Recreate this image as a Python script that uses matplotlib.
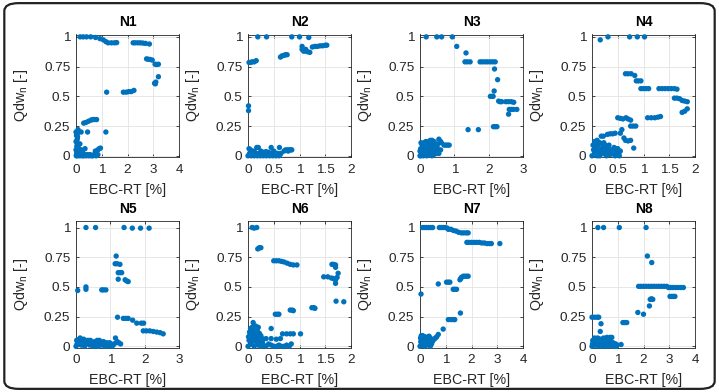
import matplotlib.pyplot as plt
from matplotlib.patches import FancyBboxPatch

plt.rcParams['font.family'] = ['Liberation Sans', 'DejaVu Sans']
plt.rcParams['mathtext.fontset'] = 'custom'
plt.rcParams['mathtext.rm'] = 'Liberation Sans'
plt.rcParams['mathtext.it'] = 'Liberation Sans:italic'

# data: (EBC-RT [%], Qdw_n [-])
n1_pts = [(0.16, 1), (0.28, 1), (0.41, 1), (0.57, 1), (0.76, 0.995), (0.93, 0.985), (1.06, 0.975),
          (1.16, 0.96), (1.25, 0.95), (1.38, 0.95), (1.5, 0.95), (1.58, 0.952),
          (2.22, 0.95), (2.3, 0.95), (2.4, 0.95), (2.5, 0.95), (2.6, 0.948), (2.7, 0.945), (2.85, 0.94),
          (2.74, 0.815), (2.8, 0.812), (2.88, 0.81), (2.96, 0.805), (3.07, 0.77), (3.13, 0.768), (3.2, 0.77),
          (3.2, 0.665), (3.05, 0.61), (3.1, 0.62), (3.08, 0.605),
          (1.19, 0.535), (1.84, 0.535), (1.95, 0.535), (2.05, 0.54), (2.15, 0.54), (2.25, 0.55),
          (0.3, 0.275), (0.38, 0.28), (0.48, 0.29), (0.58, 0.3), (0.65, 0.305), (0.72, 0.305), (0.8, 0.305),
          (0.08, 0.22), (0.1, 0.2), (0.2, 0.2), (0.45, 0.2), (1.16, 0.2),
          (0.02, 0.17), (0.05, 0.14), (0.0, 0.12), (0.1, 0.1), (0.03, 0.08), (0.12, 0.06), (0.2, 0.05),
          (0.25, 0.03), (0.35, 0.06), (0.0, 0.05), (0.05, 0.03), (0.15, 0.1), (0.01, 0.0), (0.08, 0.04),
          (0.02, 0.01), (0.06, 0.0), (0.1, 0.01), (0.15, 0.0), (0.2, 0.01), (0.3, 0.0), (0.4, 0.0),
          (0.5, 0.0), (0.55, 0.01), (0.6, 0.0), (0.65, 0.0), (0.7, 0.01), (0.78, 0.0), (0.85, 0.01),
          (0.75, 0.04), (0.85, 0.05), (0.9, 0.06), (0.95, 0.065),
          (0.05, 0.1), (0.1, 0.05), (0.15, 0.04), (0.03, 0.02), (0.12, 0.02), (0.18, 0.03), (0.22, 0.01),
          (0.25, 0.0), (0.35, 0.01), (0.45, 0.01), (0.0, 0.2), (0.04, 0.18), (0.06, 0.16)]

n2_pts = [(0.19, 1), (0.36, 1), (0.85, 1), (1.0, 1), (1.18, 0.995),
          (0.02, 0.785), (0.05, 0.785), (0.08, 0.79), (0.12, 0.79), (0.16, 0.8),
          (0.63, 0.83), (0.66, 0.84), (0.7, 0.845), (0.73, 0.85), (0.76, 0.85),
          (1.05, 0.895), (1.08, 0.88), (1.12, 0.88), (1.16, 0.875), (1.2, 0.87), (1.12, 0.895), (1.05, 0.92),
          (1.25, 0.915), (1.3, 0.92), (1.35, 0.92), (1.4, 0.925), (1.45, 0.925), (1.5, 0.93), (1.53, 0.93),
          (0.01, 0.42), (0.01, 0.38),
          (0.17, 0.07), (0.2, 0.07), (0.45, 0.07), (0.61, 0.07), (0.7, 0.04), (0.73, 0.05), (0.77, 0.05),
          (0.8, 0.05), (0.83, 0.05), (0.85, 0.05), (0.78, 0.04),
          (0.0, 0.0), (0.03, 0.02), (0.06, 0.0), (0.1, 0.03), (0.14, 0.01), (0.18, 0.0), (0.22, 0.02),
          (0.26, 0.01), (0.3, 0.0), (0.34, 0.02), (0.38, 0.01), (0.42, 0.0), (0.46, 0.02), (0.5, 0.01),
          (0.54, 0.0), (0.58, 0.02), (0.62, 0.01), (0.05, 0.05), (0.25, 0.04), (0.35, 0.035),
          (0.5, 0.04), (0.55, 0.02), (0.12, 0.04), (0.3, 0.03), (0.02, 0.06), (0.4, 0.03),
          (0.08, 0.01), (0.16, 0.02), (0.24, 0.0), (0.28, 0.02), (0.32, 0.01), (0.36, 0.0), (0.4, 0.02),
          (0.44, 0.01), (0.48, 0.0), (0.52, 0.02), (0.56, 0.01), (0.6, 0.0), (0.64, 0.02), (0.2, 0.01),
          (0.12, 0.0)]

n3_pts = [(0.18, 1), (0.49, 1), (0.63, 1), (0.94, 1), (1.07, 0.92), (1.34, 0.865),
          (1.31, 0.79), (1.38, 0.79), (1.46, 0.79),
          (1.75, 0.79), (1.82, 0.79), (1.9, 0.79), (1.97, 0.79), (2.05, 0.79), (2.12, 0.79), (2.19, 0.79),
          (2.17, 0.73), (2.26, 0.64), (2.16, 0.545), (2.05, 0.5), (2.1, 0.5), (2.13, 0.5),
          (2.29, 0.46), (2.33, 0.455), (2.38, 0.455), (2.5, 0.455), (2.58, 0.455), (2.66, 0.455), (2.73, 0.45),
          (2.6, 0.39), (2.66, 0.39), (2.72, 0.39), (2.82, 0.39), (2.58, 0.35),
          (2.14, 0.245), (2.19, 0.245), (2.24, 0.245), (1.4, 0.22), (1.7, 0.22),
          (0.3, 0.13), (0.35, 0.13), (0.55, 0.14), (0.6, 0.12), (0.62, 0.11), (0.7, 0.09), (0.75, 0.09),
          (0.8, 0.09), (0.85, 0.09), (0.55, 0.02), (0.45, 0.04), (0.5, 0.07),
          (0.0, 0.0), (0.05, 0.02), (0.1, 0.05), (0.15, 0.08), (0.2, 0.1), (0.25, 0.12), (0.02, 0.06),
          (0.08, 0.09), (0.12, 0.11), (0.18, 0.03), (0.22, 0.06), (0.28, 0.02), (0.32, 0.05), (0.38, 0.08),
          (0.42, 0.1), (0.4, 0.01), (0.05, 0.1), (0.1, 0.0), (0.15, 0.02), (0.3, 0.09), (0.35, 0.0),
          (0.0, 0.04), (0.2, 0.0), (0.25, 0.04), (0.6, 0.05),
          (0.03, 0.03), (0.07, 0.07), (0.13, 0.06), (0.17, 0.12), (0.23, 0.09), (0.27, 0.07), (0.33, 0.11),
          (0.37, 0.04), (0.43, 0.06), (0.47, 0.02), (0.03, 0.11), (0.08, 0.04), (0.12, 0.08), (0.17, 0.05),
          (0.22, 0.02), (0.27, 0.1), (0.32, 0.01), (0.36, 0.1), (0.41, 0.12), (0.02, 0.0), (0.07, 0.01),
          (0.12, 0.03), (0.45, 0.08), (0.52, 0.1)]

n4_pts = [(0.16, 0.975), (0.31, 1), (0.73, 1), (0.88, 1), (1.02, 1),
          (0.65, 0.69), (0.7, 0.69), (0.76, 0.69), (0.83, 0.675),
          (0.86, 0.63), (0.9, 0.63), (0.95, 0.63),
          (0.95, 0.565), (1.0, 0.565), (1.05, 0.565), (1.1, 0.565),
          (1.3, 0.565), (1.36, 0.565), (1.42, 0.565), (1.48, 0.565), (1.54, 0.565), (1.6, 0.565), (1.65, 0.56),
          (1.6, 0.485), (1.65, 0.485), (1.7, 0.48), (1.75, 0.465), (1.8, 0.46), (1.85, 0.455),
          (1.85, 0.395), (1.75, 0.365), (1.8, 0.375),
          (1.08, 0.32), (1.15, 0.32), (1.22, 0.32), (1.28, 0.325), (1.33, 0.33),
          (0.5, 0.32), (0.55, 0.315), (0.6, 0.31), (0.66, 0.32), (0.7, 0.31), (0.75, 0.3),
          (0.75, 0.25), (0.8, 0.25), (0.85, 0.25), (0.58, 0.22), (0.55, 0.19),
          (0.3, 0.18), (0.35, 0.185), (0.4, 0.185), (0.45, 0.19), (0.18, 0.165), (0.22, 0.165),
          (0.62, 0.15), (0.65, 0.13), (0.7, 0.125), (0.75, 0.13), (0.81, 0.065),
          (0.0, 0.0), (0.03, 0.05), (0.05, 0.12), (0.08, 0.02), (0.1, 0.08), (0.12, 0.04), (0.15, 0.0),
          (0.18, 0.06), (0.2, 0.1), (0.22, 0.02), (0.25, 0.07), (0.28, 0.0), (0.3, 0.04), (0.33, 0.09),
          (0.35, 0.01), (0.38, 0.05), (0.4, 0.02), (0.43, 0.07), (0.45, 0.0), (0.48, 0.03), (0.5, 0.06),
          (0.52, 0.02), (0.55, 0.04), (0.02, 0.09), (0.1, 0.13), (0.15, 0.11), (0.06, 0.07),
          (0.05, 0.03), (0.1, 0.0), (0.12, 0.1), (0.17, 0.03), (0.2, 0.06), (0.23, 0.11), (0.27, 0.03),
          (0.32, 0.06), (0.36, 0.03), (0.42, 0.04), (0.47, 0.06), (0.53, 0.0), (0.08, 0.1), (0.25, 0.09)]

n5_pts = [(0.29, 1), (0.57, 1), (1.4, 1), (1.64, 0.995), (1.88, 0.995), (2.13, 0.995),
          (1.17, 0.76), (1.14, 0.695), (1.2, 0.695), (1.28, 0.69), (1.23, 0.62), (1.28, 0.62), (1.33, 0.62),
          (1.23, 0.565), (1.43, 0.56), (1.48, 0.55), (1.52, 0.545),
          (0.05, 0.47), (0.29, 0.48), (0.29, 0.5), (0.75, 0.475), (0.8, 0.475), (0.87, 0.475),
          (1.21, 0.245), (1.38, 0.235), (1.45, 0.235), (1.52, 0.235), (1.65, 0.22), (1.77, 0.195),
          (1.9, 0.195), (1.97, 0.195),
          (1.96, 0.13), (2.05, 0.13), (2.15, 0.13), (2.25, 0.125), (2.35, 0.12), (2.45, 0.115), (2.54, 0.105),
          (0.0, 0.0), (0.05, 0.03), (0.1, 0.06), (0.15, 0.01), (0.2, 0.04), (0.25, 0.0), (0.3, 0.02),
          (0.35, 0.05), (0.4, 0.01), (0.45, 0.03), (0.5, 0.0), (0.55, 0.04), (0.6, 0.02), (0.65, 0.0),
          (0.7, 0.03), (0.75, 0.01), (0.8, 0.04), (0.85, 0.0), (0.9, 0.03), (0.95, 0.02), (1.0, 0.01),
          (1.05, 0.0), (1.1, 0.02), (1.15, 0.07), (1.2, 0.04), (1.25, 0.03), (1.3, 0.02), (0.12, 0.07),
          (0.02, 0.05), (0.18, 0.02), (0.38, 0.03), (0.62, 0.05), (0.92, 0.0),
          (0.07, 0.04), (0.22, 0.06), (0.28, 0.05), (0.42, 0.05), (0.48, 0.02), (0.58, 0.0), (0.68, 0.05),
          (0.78, 0.03), (0.88, 0.02), (0.98, 0.03), (1.08, 0.01), (1.18, 0.03), (0.03, 0.02), (0.13, 0.03)]

n6_pts = [(0.08, 1), (0.12, 0.995), (0.17, 1.0), (0.19, 0.82), (0.22, 0.83), (0.25, 0.83),
          (0.5, 0.72), (0.55, 0.72), (0.6, 0.72), (0.65, 0.715), (0.7, 0.71), (0.76, 0.7), (0.82, 0.69),
          (0.88, 0.685), (0.95, 0.685),
          (1.63, 0.69), (1.66, 0.69), (1.7, 0.685), (1.7, 0.665),
          (1.47, 0.585), (1.55, 0.585), (1.62, 0.575), (1.66, 0.57), (1.7, 0.56), (1.73, 0.58),
          (1.75, 0.615), (1.7, 0.53),
          (1.71, 0.38), (1.86, 0.375), (1.24, 0.325), (1.28, 0.325), (1.3, 0.32),
          (0.82, 0.305), (0.86, 0.305), (0.88, 0.3), (0.53, 0.27), (0.57, 0.27), (0.6, 0.27),
          (0.45, 0.15), (0.67, 0.105), (0.75, 0.105), (0.82, 0.105), (0.88, 0.105), (1.02, 0.105),
          (0.27, 0.065), (0.35, 0.065), (0.45, 0.065), (0.55, 0.06), (0.63, 0.065), (0.84, 0.02),
          (0.1, 0.2), (0.05, 0.15), (0.15, 0.17), (0.2, 0.16), (0.18, 0.14),
          (0.0, 0.0), (0.02, 0.05), (0.04, 0.1), (0.06, 0.02), (0.08, 0.13), (0.1, 0.07), (0.12, 0.0),
          (0.14, 0.1), (0.16, 0.04), (0.18, 0.08), (0.2, 0.01), (0.22, 0.11), (0.24, 0.05), (0.26, 0.0),
          (0.28, 0.03), (0.3, 0.01), (0.35, 0.0), (0.4, 0.02), (0.5, 0.0), (0.6, 0.01), (0.7, 0.0),
          (0.01, 0.08), (0.03, 0.12), (0.05, 0.06), (0.07, 0.03), (0.09, 0.1), (0.11, 0.05), (0.13, 0.14),
          (0.15, 0.07), (0.17, 0.12), (0.19, 0.05), (0.21, 0.08), (0.23, 0.02), (0.25, 0.09), (0.27, 0.04),
          (0.29, 0.06), (0.45, 0.01), (0.55, 0.0), (0.65, 0.0), (0.75, 0.01), (0.8, 0.0), (0.12, 0.17),
          (0.08, 0.16)]

n7_pts = [(0.1, 1), (0.18, 1), (0.26, 1), (0.34, 1), (0.42, 1), (0.49, 1),
          (0.75, 1), (0.82, 1), (0.9, 1), (0.98, 1), (1.06, 0.995),
          (1.1, 0.985), (1.2, 0.985), (1.3, 0.975), (1.4, 0.97), (1.5, 0.96), (1.61, 0.955), (1.7, 0.955),
          (1.8, 0.955), (1.87, 0.955),
          (1.82, 0.875), (1.9, 0.875), (2.0, 0.875), (2.1, 0.875), (2.2, 0.875), (2.3, 0.875), (2.4, 0.87),
          (2.5, 0.87), (2.6, 0.865), (2.7, 0.865), (2.77, 0.865), (3.1, 0.865),
          (1.61, 0.58), (1.68, 0.59), (1.75, 0.59), (1.82, 0.59), (1.87, 0.59), (1.55, 0.56), (1.58, 0.57),
          (1.29, 0.48), (1.35, 0.48), (1.42, 0.48),
          (0.71, 0.525), (1.03, 0.54), (1.1, 0.54), (1.16, 0.54),
          (0.04, 0.44), (1.57, 0.28), (1.1, 0.225), (1.2, 0.225), (1.3, 0.225), (1.35, 0.225),
          (0.9, 0.145), (0.71, 0.1), (0.65, 0.08), (0.6, 0.07), (0.55, 0.06), (0.5, 0.05),
          (0.05, 0.09), (0.1, 0.09), (0.35, 0.085), (0.0, 0.0), (0.03, 0.04), (0.06, 0.01), (0.08, 0.06),
          (0.12, 0.02), (0.15, 0.05), (0.18, 0.0), (0.2, 0.03), (0.22, 0.07), (0.25, 0.01), (0.28, 0.04),
          (0.3, 0.02), (0.33, 0.06), (0.38, 0.03), (0.42, 0.05), (0.45, 0.02), (0.48, 0.04), (0.02, 0.07),
          (0.14, 0.08), (0.4, 0.0),
          (0.05, 0.03), (0.1, 0.05), (0.13, 0.01), (0.17, 0.06), (0.23, 0.04), (0.27, 0.06), (0.32, 0.03),
          (0.36, 0.05), (0.4, 0.07), (0.44, 0.03), (0.07, 0.08), (0.2, 0.08)]

n8_pts = [(0.23, 1), (0.45, 1), (1.06, 1), (2.1, 1), (2.15, 0.76), (2.32, 0.705),
          (1.81, 0.505), (1.9, 0.505), (2.0, 0.505), (2.1, 0.505), (2.2, 0.505), (2.3, 0.505), (2.4, 0.505),
          (2.5, 0.505), (2.6, 0.505), (2.7, 0.505), (2.8, 0.505), (2.9, 0.505),
          (2.97, 0.495), (3.05, 0.495), (3.15, 0.495), (3.25, 0.495), (3.35, 0.495), (3.45, 0.495), (3.55, 0.495),
          (3.03, 0.42), (3.1, 0.42), (3.16, 0.42), (3.22, 0.42),
          (2.26, 0.395), (2.31, 0.4), (2.36, 0.395), (2.23, 0.34), (1.78, 0.285), (2.0, 0.27),
          (0.0, 0.245), (0.1, 0.245), (0.2, 0.245), (0.26, 0.245),
          (1.2, 0.2), (1.27, 0.2), (1.35, 0.2), (0.35, 0.19), (0.32, 0.125),
          (0.58, 0.075), (0.7, 0.075), (0.77, 0.075), (1.13, 0.015),
          (0.0, 0.0), (0.05, 0.04), (0.1, 0.07), (0.15, 0.01), (0.2, 0.05), (0.25, 0.0), (0.3, 0.03),
          (0.35, 0.06), (0.4, 0.02), (0.45, 0.07), (0.5, 0.01), (0.55, 0.04), (0.6, 0.0), (0.65, 0.03),
          (0.7, 0.01), (0.75, 0.02), (0.8, 0.0), (0.85, 0.02), (0.9, 0.01), (0.95, 0.0), (0.02, 0.02),
          (0.12, 0.03), (0.28, 0.06),
          (0.03, 0.05), (0.07, 0.01), (0.13, 0.06), (0.17, 0.03), (0.22, 0.07), (0.27, 0.02), (0.32, 0.05),
          (0.38, 0.04), (0.42, 0.0), (0.48, 0.05), (0.52, 0.03), (0.58, 0.02), (0.62, 0.05), (0.68, 0.02),
          (0.72, 0.04), (0.78, 0.01), (0.82, 0.03), (0.88, 0.0), (0.92, 0.02), (0.98, 0.01)]

titles = ['N1', 'N2', 'N3', 'N4', 'N5', 'N6', 'N7', 'N8']
all_pts = [n1_pts, n2_pts, n3_pts, n4_pts, n5_pts, n6_pts, n7_pts, n8_pts]
xmax = [4, 2, 3, 2, 3, 2, 4, 4]
xstep = [1, 0.5, 1, 0.5, 1, 0.5, 1, 1]

fig = plt.figure(figsize=(7.19, 3.92), dpi=100)

# rounded frame around the figure
frame = FancyBboxPatch((0.006, 0.008), 0.988, 0.984, boxstyle='round,pad=0,rounding_size=0.02',
                       transform=fig.transFigure, fill=False, edgecolor='#222222', linewidth=1.6)
fig.patches.append(frame)

lefts = [76, 248, 420, 592]
blue = '#0072BD'
dark = '#262626'

for i, pts in enumerate(all_pts):
    row = i // 4
    col = i % 4
    if row == 0:
        top, bot, ylim = 34.5, 157, (-0.01, 1.02)
    else:
        top, bot, ylim = 221, 347.5, (-0.01, 1.055)
    ax = fig.add_axes([lefts[col] / 719, (392 - bot) / 392, 103 / 719, (bot - top) / 392])
    xs = [p[0] for p in pts]
    ys = [p[1] for p in pts]
    ax.scatter(xs, ys, s=15, color=blue, edgecolors='none', clip_on=False, zorder=3)
    ax.set_xlim(0, xmax[i])
    ax.set_ylim(*ylim)
    n = int(round(xmax[i] / xstep[i]))
    ticks = [k * xstep[i] for k in range(n + 1)]
    ax.set_xticks(ticks)
    ax.set_xticklabels(['%g' % t for t in ticks])
    ax.set_yticks([0, 0.25, 0.5, 0.75, 1])
    ax.set_yticklabels(['0', '0.25', '0.5', '0.75', '1'])
    ax.grid(True, color='#e3e3e3', linewidth=0.6)
    ax.set_axisbelow(True)
    for sp in ax.spines.values():
        sp.set_color(dark)
        sp.set_linewidth(0.6)
    ax.tick_params(direction='in', length=2.5, width=0.6, colors=dark, labelsize=9.7,
                   top=True, right=True)
    ax.tick_params(axis='x', pad=5)
    ax.tick_params(axis='y', pad=4)
    ax.set_title(titles[i], fontsize=10, fontweight='bold', color='black', pad=6)
    ax.set_xlabel('EBC-RT [%]', fontsize=10.3, color=dark, labelpad=5)
    ax.set_ylabel('Qdw$_\\mathregular{n}$ [-]', fontsize=10.3, color=dark, labelpad=10)

plt.savefig('out.png', dpi=100)
